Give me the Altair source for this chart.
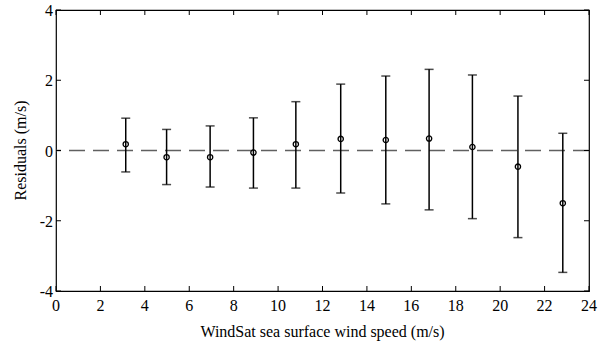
import altair as alt
import pandas as pd

speed = [3.14, 4.98, 6.94, 8.89, 10.8, 12.82, 14.85, 16.8, 18.75, 20.8, 22.82]
resid = [0.18, -0.19, -0.19, -0.06, 0.18, 0.33, 0.30, 0.34, 0.10, -0.46, -1.50]
upper = [0.92, 0.60, 0.70, 0.93, 1.39, 1.89, 2.12, 2.31, 2.15, 1.55, 0.49]
lower = [-0.61, -0.97, -1.04, -1.07, -1.07, -1.21, -1.52, -1.69, -1.94, -2.48, -3.47]

x_ticks = [0, 2, 4, 6, 8, 10, 12, 14, 16, 18, 20, 22, 24]
x_labels = ["0", "2", "4", "6", "8", "10", "12", "14", "16", "18", "20", "22", "24"]
y_ticks = [-4, -2, 0, 2, 4]
y_labels = ["-4", "-2", "0", "2", "4"]
x_title = "WindSat sea surface wind speed (m/s)"
y_title = "Residuals (m/s)"

W, H = 533, 281
FONT = "Liberation Serif"
FS = 16

df = pd.DataFrame({"speed": speed, "resid": resid, "upper": upper, "lower": lower})
xt = pd.DataFrame({"t": x_ticks, "lab": x_labels})
yt = pd.DataFrame({"t": y_ticks, "lab": y_labels})

xs = alt.Scale(domain=[0, 24], nice=False, zero=False)
ys = alt.Scale(domain=[-4, 4], nice=False, zero=False)
X = lambda f: alt.X(f, scale=xs, axis=None)
Y = lambda f: alt.Y(f, scale=ys, axis=None)

base = alt.Chart(df)

zero = alt.Chart(pd.DataFrame({"v": [0]})).mark_rule(
    color="#606060", strokeWidth=1.5, strokeDash=[16, 8]
).encode(y=Y("v:Q"))

bars = base.mark_rule(color="black", strokeWidth=1.5).encode(
    x=X("speed:Q"), y=Y("lower:Q"), y2="upper:Q"
)
cap_hi = base.mark_tick(color="black", orient="horizontal", size=9, thickness=1.5).encode(
    x=X("speed:Q"), y=Y("upper:Q")
)
cap_lo = base.mark_tick(color="black", orient="horizontal", size=9, thickness=1.5).encode(
    x=X("speed:Q"), y=Y("lower:Q")
)
pts = base.mark_point(shape="circle", filled=False, color="black", size=28,
                      strokeWidth=1.3, opacity=1).encode(
    x=X("speed:Q"), y=Y("resid:Q")
)

# inward axis ticks on all four sides
tx = alt.Chart(xt)
ty = alt.Chart(yt)
tick_b = tx.mark_rule(color="black", strokeWidth=1).encode(
    x=X("t:Q"), y=alt.value(H), y2=alt.value(H - 5))
tick_t = tx.mark_rule(color="black", strokeWidth=1).encode(
    x=X("t:Q"), y=alt.value(0), y2=alt.value(5))
tick_l = ty.mark_rule(color="black", strokeWidth=1).encode(
    y=Y("t:Q"), x=alt.value(0), x2=alt.value(5))
tick_r = ty.mark_rule(color="black", strokeWidth=1).encode(
    y=Y("t:Q"), x=alt.value(W), x2=alt.value(W - 5))

# tick labels
lab_x = tx.mark_text(font=FONT, fontSize=FS, fontWeight="normal", color="black",
                     align="center", baseline="alphabetic").encode(
    x=X("t:Q"), y=alt.value(H + 20), text="lab:N")
lab_y = ty.mark_text(font=FONT, fontSize=FS, fontWeight="normal", color="black",
                     align="right", baseline="middle", dy=1).encode(
    y=Y("t:Q"), x=alt.value(-3), text="lab:N")

# axis titles
tit_x = alt.Chart(pd.DataFrame({"s": [x_title]})).mark_text(
    font=FONT, fontSize=FS, fontWeight="normal", color="black",
    align="center", baseline="alphabetic"
).encode(x=alt.value(W / 2), y=alt.value(H + 46), text="s:N")
tit_y = alt.Chart(pd.DataFrame({"s": [y_title]})).mark_text(
    font=FONT, fontSize=FS, fontWeight="normal", color="black",
    align="center", baseline="alphabetic", angle=270
).encode(x=alt.value(-30), y=alt.value(H / 2), text="s:N")

chart = alt.layer(
    zero, bars, cap_hi, cap_lo, pts,
    tick_b, tick_t, tick_l, tick_r,
    lab_x, lab_y, tit_x, tit_y
).properties(
    width=W, height=H,
    autosize=alt.AutoSizeParams(type="none"),
    padding={"left": 56, "top": 10, "right": 9, "bottom": 56},
    background="white",
).configure_view(stroke="black", strokeWidth=1.2)

chart.save("out.html", embed_options={"renderer": "svg", "actions": False})
